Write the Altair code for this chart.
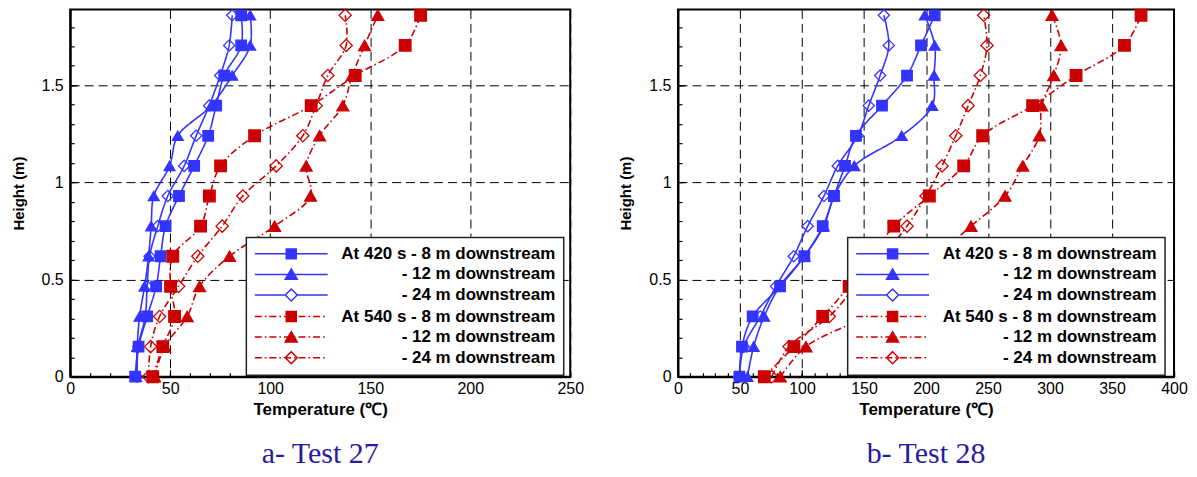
import altair as alt
import pandas as pd

# ---------------- data ----------------
HEIGHTS = [0, 0.155, 0.31, 0.465, 0.62, 0.775, 0.93, 1.085, 1.24, 1.395, 1.55, 1.705, 1.86]

SERIES = [
    "At 420 s - 8 m downstream",
    "At 420 s - 12 m downstream",
    "At 420 s - 24 m downstream",
    "At 540 s - 8 m downstream",
    "At 540 s - 12 m downstream",
    "At 540 s - 24 m downstream",
]

# Test 27
T27_420_8 = [32.5, 34.2, 38.5, 43, 45.2, 47.7, 54.4, 62, 69, 73, 77, 85.5, 85.5]
T27_420_12 = [33, 33.5, 34.7, 37.2, 39.2, 40.5, 41.8, 49.7, 53.8, 70.5, 81, 90, 90]
T27_420_24 = [33.5, 34, 37.5, 38.5, 39.7, 43.8, 48.8, 57, 63, 69.5, 75, 79.5, 81]
T27_540_8 = [41.3, 46.3, 52.2, 50.2, 51.3, 65.2, 69.6, 75.2, 92.2, 120.5, 142.5, 167.5, 175.2]
T27_540_12 = [42.2, 47.2, 58.5, 64.7, 79.7, 102.2, 120.2, 118, 124.7, 136.3, 141, 147.2, 153.8]
T27_540_24 = [39.2, 40.2, 44.7, 54.2, 63.8, 76, 86.3, 103, 116.3, 123, 128.8, 138, 137.5]

# Test 28
T28_420_8 = [49.5, 51.6, 60.2, 82.3, 101.9, 116.7, 125.8, 134.7, 143.5, 164.5, 184.7, 196, 207]
T28_420_12 = [56, 61, 69.5, 82, 102, 117.5, 126, 142.2, 180.4, 205, 206.5, 207, 199]
T28_420_24 = [49.5, 53, 66.4, 79, 93.3, 104.6, 117.7, 128.8, 145, 153.8, 163, 170, 166]
T28_540_8 = [69.6, 93.5, 116.7, 138, 157, 174, 202.7, 230.4, 245.7, 286, 321, 360, 373.4]
T28_540_12 = [82.5, 103.2, 150, 180, 208, 236.3, 263.7, 278, 291.4, 293.3, 303, 308.9, 301.6]
T28_540_24 = [75.6, 89.5, 122, 143, 165, 184.7, 200, 212.9, 224, 234, 243.8, 249.2, 246.5]

X_TITLE = "Temperature (℃)"
Y_TITLE = "Height (m)"
CAPTIONS = ["a- Test 27", "b- Test 28"]

# ---------------- style ----------------
BLUE = "#3434ff"
RED = "#cc0000"
FONT = "Liberation Sans"
PLOT_H = 368
LINE_COLORS = [BLUE] * 3 + [RED] * 3
DASHES = [[1, 0]] * 3 + [[7, 3, 1.5, 3]] * 3
SHAPES = ["square", "triangle-up", "diamond"] * 2
FILLS = [BLUE, BLUE, "transparent", RED, RED, "transparent"]
SIZES = [110, 150, 140] * 2


def dashdot(x0, x1, dash=7.0, gap=3.0, dot=1.6):
    segs, x = [], x0
    while x < x1:
        e = min(x + dash, x1)
        segs.append((x, e))
        x = e + gap
        if x >= x1:
            break
        e = min(x + dot, x1)
        segs.append((x, e))
        x = e + gap
    return "".join(f"M{a:.2f},0H{b:.2f}" for a, b in segs)


SQ = "M-5,-5H5V5H-5Z"
TRI = "M0,-5.5L6,4.8L-6,4.8Z"
DIA = "M0,-6L6,0L0,6L-6,0Z"
L = 36.5
LEG_PATHS = [
    f"M{-L},0H{L}" + SQ,
    f"M{-L},0H{L}" + TRI,
    f"M{-L},0H-6M6,0H{L}" + DIA,
    dashdot(-L, L) + SQ,
    dashdot(-L, L) + TRI,
    dashdot(-L, L) + DIA,
]
LEG_FILLS = [BLUE, BLUE, "white", RED, RED, "transparent"]

LABEL_EXPR = "indexof(datum.label, ' 8 m') >= 0 ? datum.label : substring(datum.label, 9)"


def frame(rows):
    recs = []
    for name, vals in zip(SERIES, rows):
        for h, t in zip(HEIGHTS, vals):
            recs.append({"series": name, "h": h, "temp": t})
    return pd.DataFrame(recs)


def tick_axis(orient, values, size):
    # tick-only axis pulled inside by its tick length -> inward ticks
    return alt.Axis(
        orient=orient, values=values, labels=False, grid=False, domain=False, title=None,
        ticks=True, tickSize=size, tickColor="black", tickWidth=1.2, offset=-size,
    )


def panel(rows, xmax, width, caption, legx):
    df = frame(rows)
    xs = alt.Scale(domain=[0, xmax], nice=False, zero=False)
    ys = alt.Scale(domain=[0, 1.89], nice=False, zero=False)

    x_major = alt.Axis(
        orient="bottom", values=list(range(0, xmax + 1, 50)), format="d", title=X_TITLE,
        grid=True, gridDash=[9, 5], gridColor="black", gridWidth=1, gridOpacity=1, ticks=False,
        labelPadding=4, labelFont=FONT, labelFontSize=16, labelColor="black",
        labelFlush=False, labelOverlap=False, labelBound=False,
        titleFont=FONT, titleFontSize=17, titleFontWeight="bold", titleColor="black", titlePadding=4.5,
        domain=True, domainColor="black", domainWidth=2,
    )
    y_major = alt.Axis(
        orient="left", values=[0, 0.5, 1, 1.5], format="~g", title=Y_TITLE,
        grid=True, gridDash=[9, 5], gridColor="black", gridWidth=1, gridOpacity=1, ticks=False,
        labelPadding=7, labelFont=FONT, labelFontSize=16, labelColor="black",
        labelFlush=False, labelOverlap=False, labelBound=False,
        titleFont=FONT, titleFontSize=15, titleFontWeight="bold", titleColor="black", titlePadding=15,
        domain=True, domainColor="black", domainWidth=2,
    )
    x_ticks = tick_axis("bottom", list(range(0, xmax + 1, 50)), 7)
    y_ticks = tick_axis("left", [0, 0.5, 1, 1.5], 7)
    x_minor = tick_axis("bottom", list(range(0, xmax + 1, 10)), 4)
    y_minor = tick_axis("left", [i / 10 for i in range(0, 19)], 4)

    lines = alt.Chart(df).mark_line(interpolate="catmull-rom", strokeWidth=1.6).encode(
        x=alt.X("temp:Q", scale=xs, axis=x_major),
        y=alt.Y("h:Q", scale=ys, axis=y_major),
        order=alt.Order("h:Q"),
        color=alt.Color("series:N", scale=alt.Scale(domain=SERIES, range=LINE_COLORS), legend=None),
        strokeDash=alt.StrokeDash("series:N", scale=alt.Scale(domain=SERIES, range=DASHES), legend=None),
    )
    points = alt.Chart(df).mark_point(opacity=1, strokeWidth=1.3).encode(
        x=alt.X("temp:Q", scale=xs, axis=x_ticks),
        y=alt.Y("h:Q", scale=ys, axis=y_ticks),
        shape=alt.Shape("series:N", scale=alt.Scale(domain=SERIES, range=SHAPES), legend=None),
        fill=alt.Fill("series:N", scale=alt.Scale(domain=SERIES, range=FILLS), legend=None),
        stroke=alt.Stroke("series:N", scale=alt.Scale(domain=SERIES, range=LINE_COLORS), legend=None),
        size=alt.Size("series:N", scale=alt.Scale(domain=SERIES, range=SIZES), legend=None),
    )
    leg = alt.Legend(
        title=None, orient="none", legendX=legx, legendY=228.4,
        symbolSize=4, symbolOffset=28.5, symbolStrokeWidth=1.5,
        labelAlign="right", labelOffset=256, labelLimit=400, labelFont=FONT, labelFontSize=17,
        labelFontWeight="bold", labelColor="black", labelExpr=LABEL_EXPR,
        padding=8, rowPadding=2.6, fillColor="white", strokeColor="#222222",
    )
    legend_layer = alt.Chart(df).transform_filter("datum.h < 0").mark_point(opacity=1).encode(
        x=alt.X("temp:Q", scale=xs, axis=x_minor),
        y=alt.Y("h:Q", scale=ys, axis=y_minor),
        shape=alt.Shape("series:N", scale=alt.Scale(domain=SERIES, range=LEG_PATHS), legend=leg),
        fill=alt.Fill("series:N", scale=alt.Scale(domain=SERIES, range=LEG_FILLS), legend=leg),
        stroke=alt.Stroke("series:N", scale=alt.Scale(domain=SERIES, range=LINE_COLORS), legend=leg),
    )
    return (
        alt.layer(lines, points, legend_layer)
        .resolve_scale(shape="independent", fill="independent", stroke="independent")
        .resolve_axis(x="independent", y="independent")
        .properties(
            width=width, height=PLOT_H,
            title=alt.TitleParams(
                text=caption, orient="bottom", anchor="middle", frame="group",
                font="Liberation Serif", fontSize=30, fontWeight="normal", color="#2a1aa0", offset=22,
            ),
        )
    )


left = panel([T27_420_8, T27_420_12, T27_420_24, T27_540_8, T27_540_12, T27_540_24], 250, 501, CAPTIONS[0], 176.5)
right = panel([T28_420_8, T28_420_12, T28_420_24, T28_540_8, T28_540_12, T28_540_24], 400, 497, CAPTIONS[1], 170)

chart = (
    alt.hconcat(left, right, spacing=32)
    .configure(padding={"left": 1.3, "top": -3, "right": 0, "bottom": 0}, background="white")
    .configure_view(stroke="black", strokeWidth=2)
    .configure_legend(strokeWidth=1.5)
)

chart.save("out.html", embed_options={"renderer": "svg", "actions": False})
